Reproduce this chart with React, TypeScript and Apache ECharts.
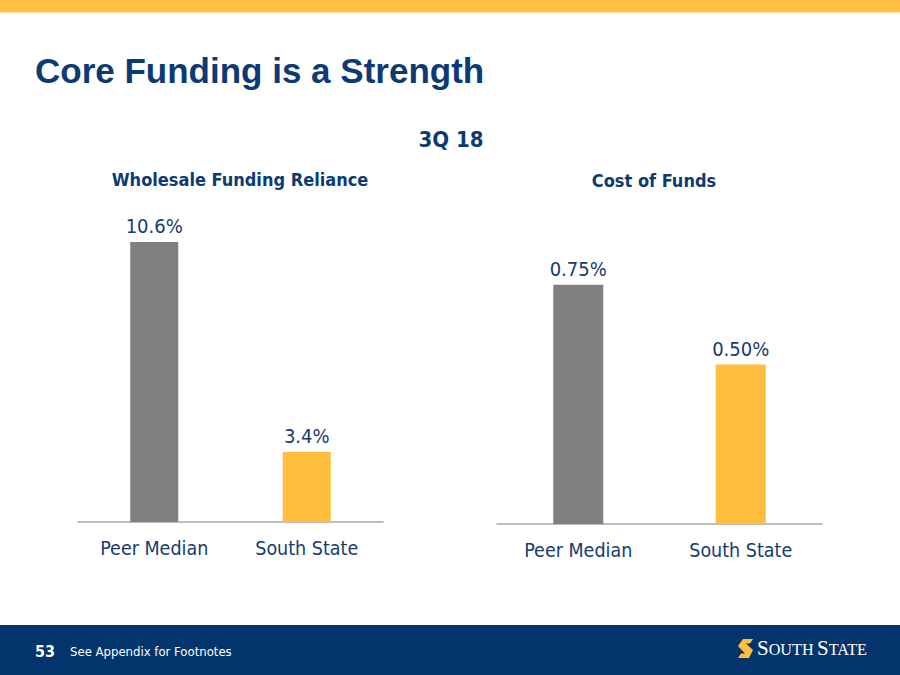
import React, { useEffect, useRef } from "react";
import * as echarts from "echarts";

const categories = ["Peer Median", "South State"];
const wholesaleValues = [10.6, 3.4];
const costValues = [0.75, 0.5];
const barColors = ["#808080", "#FFBE3D"];

const NAVY = "#0C3B74";
const LABEL = "#163C6E";
const COND = "'DejaVu Sans Condensed', 'DejaVu Sans', sans-serif";

export default function App() {
  const ref = useRef<HTMLDivElement>(null);
  useEffect(() => {
    if (!ref.current) return;
    const chart = echarts.init(ref.current, null, { renderer: "svg" });
    const mkData = (vals: number[]) =>
      vals.map((v, i) => ({ value: v, itemStyle: { color: barColors[i] } }));
    chart.setOption({
      animation: false,
      backgroundColor: "#ffffff",
      grid: [
        { left: 78, width: 305, top: 230.3, height: 291.7 },
        { left: 497, width: 325, top: 268.8, height: 255.2 },
      ],
      xAxis: [0, 1].map((g) => ({
        type: "category",
        gridIndex: g,
        data: categories,
        axisLine: { show: true, lineStyle: { color: "#A6A6A6", width: 1.5 } },
        axisTick: { show: false },
        axisLabel: { color: LABEL, fontFamily: COND, fontSize: 19.5, margin: 16 },
      })),
      yAxis: [
        { type: "value", gridIndex: 0, min: 1, max: 11, show: false, splitLine: { show: false } },
        { type: "value", gridIndex: 1, min: 0, max: 0.8, show: false, splitLine: { show: false } },
      ],
      series: [
        {
          type: "bar",
          xAxisIndex: 0,
          yAxisIndex: 0,
          barWidth: 48,
          clip: true,
          data: mkData(wholesaleValues),
          label: {
            show: true,
            position: "top",
            distance: 6,
            color: LABEL,
            fontFamily: COND,
            fontSize: 20,
            formatter: (p: any) => p.value.toFixed(1) + "%",
          },
        },
        {
          type: "bar",
          xAxisIndex: 1,
          yAxisIndex: 1,
          barWidth: 50,
          clip: true,
          data: mkData(costValues),
          label: {
            show: true,
            position: "top",
            distance: 6,
            color: LABEL,
            fontFamily: COND,
            fontSize: 20,
            formatter: (p: any) => p.value.toFixed(2) + "%",
          },
        },
      ],
      graphic: [
        { type: "rect", shape: { x: 0, y: 0, width: 900, height: 12.5 }, style: { fill: "#FFBF40" } },
        {
          type: "text",
          x: 35,
          y: 70,
          style: {
            text: "Core Funding is a Strength",
            fill: NAVY,
            font: "bold 35px 'Liberation Sans', Arial, sans-serif",
            textVerticalAlign: "middle",
          },
        },
        {
          type: "text",
          x: 451,
          y: 139,
          style: {
            text: "3Q 18",
            fill: NAVY,
            font: "bold 22px " + COND,
            textAlign: "center",
            textVerticalAlign: "middle",
          },
        },
        {
          type: "text",
          x: 240,
          y: 179,
          style: {
            text: "Wholesale Funding Reliance",
            fill: NAVY,
            font: "bold 18px " + COND,
            textAlign: "center",
            textVerticalAlign: "middle",
          },
        },
        {
          type: "text",
          x: 654,
          y: 180,
          style: {
            text: "Cost of Funds",
            fill: NAVY,
            font: "bold 18px " + COND,
            textAlign: "center",
            textVerticalAlign: "middle",
          },
        },
        { type: "rect", shape: { x: 0, y: 625, width: 900, height: 50 }, style: { fill: "#04346C" } },
        {
          type: "text",
          x: 35,
          y: 651,
          style: {
            text: "53",
            fill: "#ffffff",
            font: "bold 16px " + COND,
            textVerticalAlign: "middle",
          },
        },
        {
          type: "text",
          x: 70,
          y: 651,
          style: {
            text: "See Appendix for Footnotes",
            fill: "#ffffff",
            font: "13px " + COND,
            textVerticalAlign: "middle",
          },
        },
        {
          type: "polygon",
          shape: {
            points: [
              [743, 639],
              [753, 639],
              [750, 643.5],
              [746, 643.5],
              [753, 650],
              [749, 658],
              [738, 658],
              [741, 653.5],
              [745, 653.5],
              [738, 646],
            ],
          },
          style: { fill: "#FFBF40" },
        },
        {
          type: "text",
          x: 757,
          y: 658,
          style: {
            text: "{b|S}{s|OUTH} {b|S}{s|TATE}",
            fill: "#ffffff",
            textVerticalAlign: "bottom",
            rich: {
              b: { fontFamily: "'Liberation Serif', serif", fontSize: 21, fill: "#ffffff", color: "#ffffff", verticalAlign: "bottom" },
              s: { fontFamily: "'Liberation Serif', serif", fontSize: 16.2, fill: "#ffffff", color: "#ffffff", verticalAlign: "bottom" },
            },
          },
        },
      ],
    });
    return () => chart.dispose();
  }, []);
  return (
    <div
      ref={ref}
      style={{ position: "absolute", left: 0, top: 0, width: 900, height: 675 }}
    />
  );
}
